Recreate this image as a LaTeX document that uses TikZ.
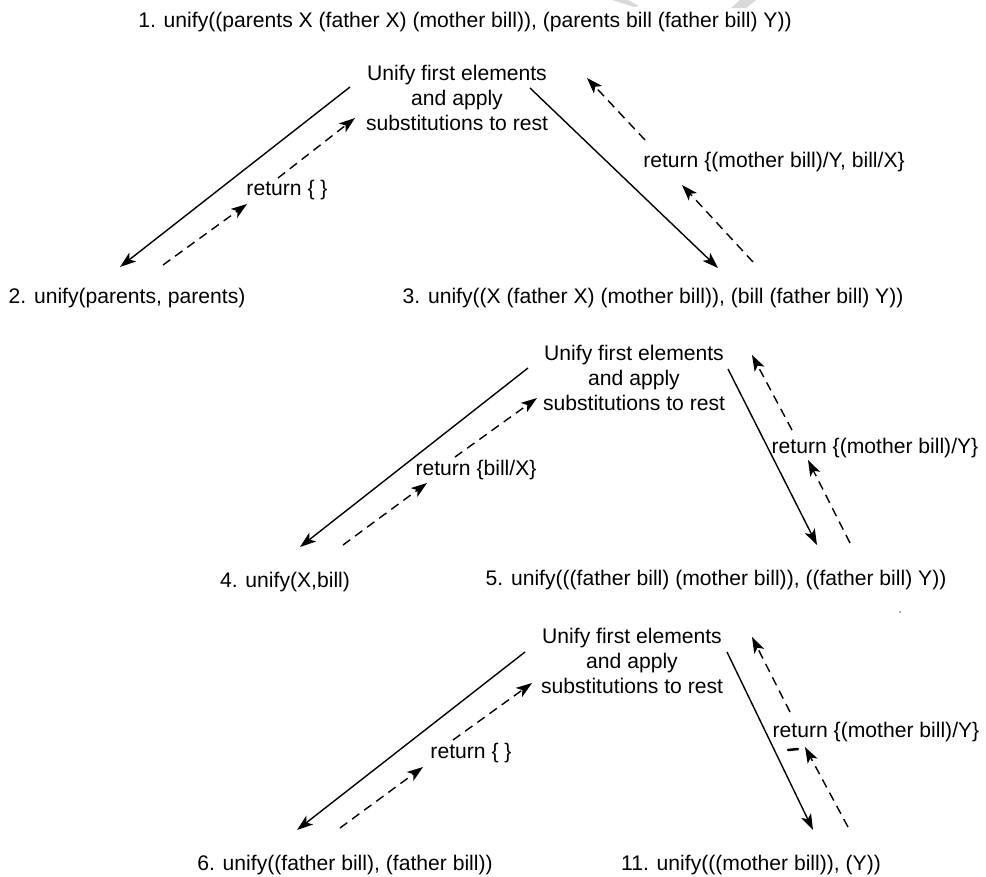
\documentclass[tikz,border=0pt]{standalone}
\usepackage{fontspec}
\setmainfont{Liberation Sans}
\usetikzlibrary{arrows.meta}
\begin{document}
\begin{tikzpicture}[x=1bp,y=-1bp]
\tikzset{
  lbl/.style={inner sep=0pt, font=\fontsize{21.2}{25}\selectfont, text=black},
  blk/.style={lbl, align=center},
  call/.style={-{Stealth[length=16bp,width=11bp,inset=4bp]}, line width=1.4bp},
  ret/.style={call, dash pattern=on 9bp off 6bp},
  faint/.style={fill=gray!30, draw=none},
}
\useasboundingbox (0,0) rectangle (986,877);

% faint shapes along the top edge
\fill[faint] (612,0) -- (628,0) -- (639,6) -- (634,7) -- cycle;
\fill[faint] (740,0) -- (756,0) -- (746,8) -- (731,8) -- cycle;

% calls and the "unify first elements" steps
\node[lbl] (c1) at (465,22) {1. unify((parents X (father X) (mother bill)), (parents bill (father bill) Y))};
\node[blk] (s1) at (457,98) {Unify first elements\\and apply\\substitutions to rest};
\node[lbl] (c2) at (127,298) {2. unify(parents, parents)};
\node[lbl] (c3) at (653,298) {3. unify((X (father X) (mother bill)), (bill (father bill) Y))};
\node[lbl] (r1) at (287,190) {return \{ \}};
\node[lbl] (r2) at (774,162) {return \{(mother bill)/Y, bill/X\}};

\node[blk] (s2) at (634,378) {Unify first elements\\and apply\\substitutions to rest};
\node[lbl] (c4) at (285,582) {4. unify(X,bill)};
\node[lbl] (c5) at (716,580) {5. unify(((father bill) (mother bill)), ((father bill) Y))};
\node[lbl] (r3) at (476,470) {return \{bill/X\}};
\node[lbl] (r4) at (875,448) {return \{(mother bill)/Y\}};

\node[blk] (s3) at (632,661) {Unify first elements\\and apply\\substitutions to rest};
\node[lbl] (c6) at (345,865) {6. unify((father bill), (father bill))};
\node[lbl] (c11) at (751,865) {11. unify(((mother bill)), (Y))};
\node[lbl] (r5) at (471,753) {return \{ \}};
\node[lbl] (r6) at (876,732) {return \{(mother bill)/Y\}};

% arrow end points
\coordinate (a1) at (350,87);   \coordinate (a2) at (120,267);
\coordinate (a3) at (163,265);  \coordinate (a4) at (247,204);
\coordinate (a5) at (278,178);  \coordinate (a6) at (355,118);
\coordinate (a7) at (530,88);   \coordinate (a8) at (718,268);
\coordinate (a9) at (753,262);  \coordinate (a10) at (682,185);
\coordinate (a11) at (645,140); \coordinate (a12) at (587,78);

\coordinate (b1) at (528,368);  \coordinate (b2) at (300,547);
\coordinate (b3) at (343,545);  \coordinate (b4) at (427,483);
\coordinate (b5) at (455,457);  \coordinate (b6) at (537,398);
\coordinate (b7) at (728,369);  \coordinate (b8) at (817,545);
\coordinate (b9) at (850,543);  \coordinate (b10) at (808,460);
\coordinate (b11) at (792,430); \coordinate (b12) at (752,355);

\coordinate (d1) at (525,652);  \coordinate (d2) at (297,830);
\coordinate (d3) at (340,828);  \coordinate (d4) at (423,767);
\coordinate (d5) at (453,740);  \coordinate (d6) at (532,683);
\coordinate (d7) at (727,652);  \coordinate (d8) at (813,830);
\coordinate (d9) at (848,827);  \coordinate (d10) at (805,747);
\coordinate (d11) at (790,712); \coordinate (d12) at (752,637);

% first level
\draw[call] (a1) -- (a2);
\draw[ret] (a3) -- (a4);
\draw[ret] (a5) -- (a6);
\draw[call] (a7) -- (a8);
\draw[ret] (a9) -- (a10);
\draw[ret] (a11) -- (a12);

% second level
\draw[call] (b1) -- (b2);
\draw[ret] (b3) -- (b4);
\draw[ret] (b5) -- (b6);
\draw[call] (b7) -- (b8);
\draw[ret] (b9) -- (b10);
\draw[ret] (b11) -- (b12);

% third level
\draw[call] (d1) -- (d2);
\draw[ret] (d3) -- (d4);
\draw[ret] (d5) -- (d6);
\draw[call] (d7) -- (d8);
\draw[ret] (d9) -- (d10);
\draw[ret] (d11) -- (d12);

% small stray marks
\draw[line width=2.5bp, line cap=round] (788,750) -- (798,749);
\fill[gray] (900,612) circle (1bp);
\end{tikzpicture}
\end{document}
